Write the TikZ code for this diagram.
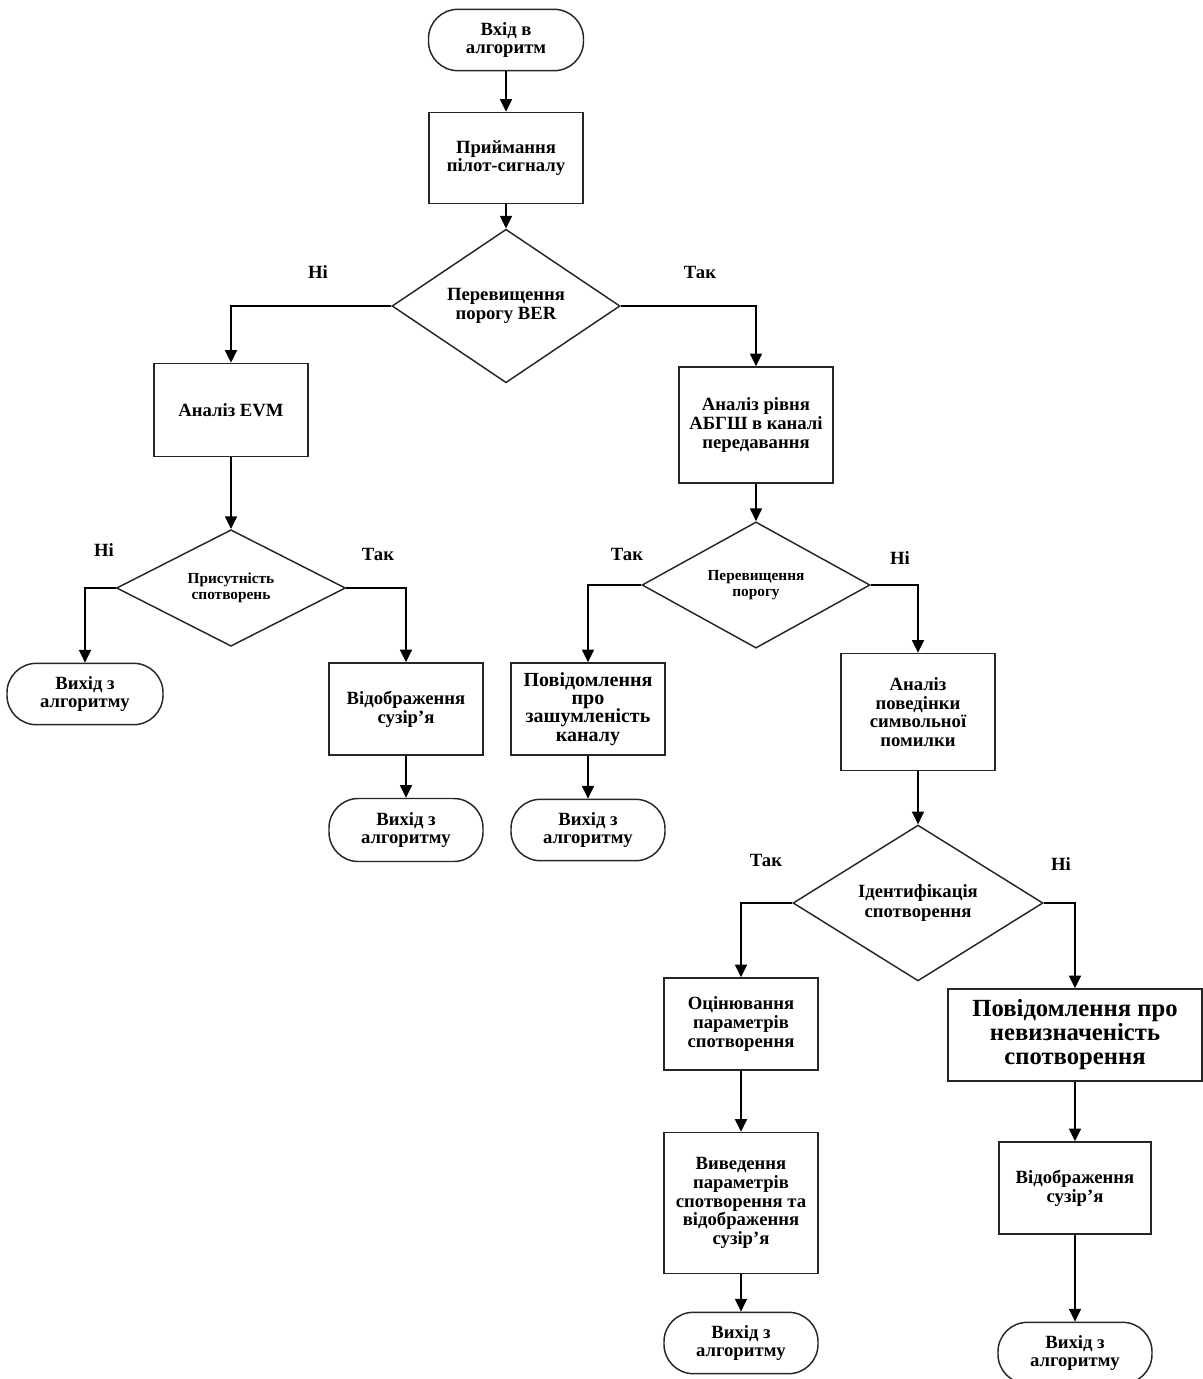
\documentclass[tikz,border=0pt]{standalone}
\usepackage{fontspec}
\setmainfont{Liberation Serif}
\usetikzlibrary{arrows.meta, shapes.geometric}
\definecolor{lineblk}{HTML}{262626}

\begin{document}
\begin{tikzpicture}[x=0.75pt, y=-0.75pt, line width=1.1pt,
  procbox/.style={draw=lineblk, rectangle, align=center, inner sep=2pt,
    minimum width=115.5pt, minimum height=69pt,
    font=\fontsize{14}{14}\selectfont\bfseries},
  termbox/.style={draw=lineblk, rectangle, rounded corners=22pt, align=center,
    minimum width=115.5pt, minimum height=46pt,
    font=\fontsize{14}{14}\selectfont\bfseries},
  decision/.style={draw=lineblk, diamond, align=center, inner sep=0pt,
    minimum width=171pt, minimum height=87pt,
    font=\fontsize{14}{14.5}\selectfont\bfseries},
  smalltext/.style={font=\fontsize{11.5}{12}\selectfont\bfseries},
  lbl/.style={font=\fontsize{14}{14}\selectfont\bfseries},
  arr/.style={-{Triangle[length=9.5pt, width=9pt]}, draw=black}
]
\useasboundingbox (0,0) rectangle (1203,1379);

% main column
\node[termbox, minimum width=116.25pt] (start) at (506,40) {Вхід в\\алгоритм};
\node[procbox, minimum height=68.25pt] (recv) at (506,158) {Приймання\\пілот-сигналу};
\node[decision, minimum height=86.25pt] (berdec) at (506,306) {Перевищення\\порогу BER};

% left branch: EVM
\node[procbox, minimum height=69.75pt] (evm) at (231,410) {Аналіз EVM};
\node[decision, smalltext, minimum width=171.75pt] (distdec) at (231,588) {Присутність\\спотворень};
\node[termbox, minimum width=117pt] (exit1) at (85,694) {Вихід з\\алгоритму};
\node[procbox] (const1) at (406,709) {Відображення\\сузір’я};
\node[termbox, minimum height=47.25pt] (exit2) at (406,830) {Вихід з\\алгоритму};

% right branch: noise level
\node[procbox, minimum height=87pt] (awgn) at (756,425) {Аналіз рівня\\АБГШ в каналі\\передавання};
\node[decision, smalltext] (thrdec) at (756,585) {Перевищення\\порогу};
\node[procbox, font=\fontsize{15}{13.8}\selectfont\bfseries] (noise) at (588,709)
  {Повідомлення\\про\\зашумленість\\каналу};
\node[termbox] (exit3) at (588,830) {Вихід з\\алгоритму};
\node[procbox, minimum height=87.75pt] (symerr) at (918,712) {Аналіз\\поведінки\\символьної\\помилки};
\node[decision, minimum width=187.5pt, minimum height=95.25pt] (iddec) at (918,903)
  {Ідентифікація\\спотворення};

% distortion identified / not identified
\node[procbox] (estim) at (741,1024) {Оцінювання\\параметрів\\спотворення};
\node[procbox, minimum height=105.75pt] (output) at (741,1203)
  {Виведення\\параметрів\\спотворення та\\відображення\\сузір’я};
\node[termbox] (exit4) at (741,1343) {Вихід з\\алгоритму};
\node[procbox, minimum width=190.5pt, font=\fontsize{18.5}{18}\selectfont\bfseries] (undef) at (1075,1035)
  {Повідомлення про\\невизначеність\\спотворення};
\node[procbox, minimum width=114pt] (const2) at (1075,1188) {Відображення\\сузір’я};
\node[termbox] (exit5) at (1075,1353) {Вихід з\\алгоритму};

% branch labels
\node[lbl] (no1) at (318,272) {Ні};
\node[lbl] (yes1) at (700,272) {Так};
\node[lbl] (no2) at (104,550) {Ні};
\node[lbl] (yes2) at (378,554) {Так};
\node[lbl] (yes3) at (627,554) {Так};
\node[lbl] (no3) at (900,558) {Ні};
\node[lbl] (yes4) at (766,860) {Так};
\node[lbl] (no4) at (1061,864) {Ні};

% connectors
\draw[arr] (start) -- (recv);
\draw[arr] (recv) -- (berdec);
\draw[arr] (berdec.west) -| (evm.north);
\draw[arr] (berdec.east) -| (awgn.north);
\draw[arr] (evm) -- (distdec);
\draw[arr] (distdec.west) -| (exit1.north);
\draw[arr] (distdec.east) -| (const1.north);
\draw[arr] (const1) -- (exit2);
\draw[arr] (awgn) -- (thrdec);
\draw[arr] (thrdec.west) -| (noise.north);
\draw[arr] (thrdec.east) -| (symerr.north);
\draw[arr] (noise) -- (exit3);
\draw[arr] (symerr) -- (iddec);
\draw[arr] (iddec.west) -| (estim.north);
\draw[arr] (iddec.east) -| (undef.north);
\draw[arr] (estim) -- (output);
\draw[arr] (output) -- (exit4);
\draw[arr] (undef) -- (const2);
\draw[arr] (const2) -- (exit5);
\end{tikzpicture}
\end{document}
